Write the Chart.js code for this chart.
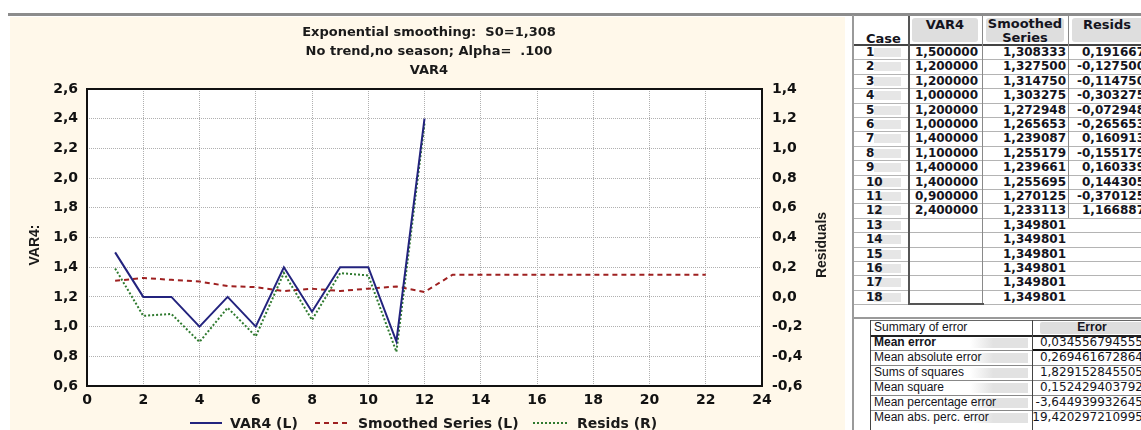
<!DOCTYPE html>
<html lang="en">
<head>
    <meta charset="UTF-8">
    <title>Exponential smoothing - VAR4</title>
    <script src="https://cdn.jsdelivr.net/npm/chart.js"></script>
    <style>
        body {
            margin: 0;
            width: 1141px;
            height: 430px;
            overflow: hidden;
            background: #fff;
            position: relative;
            font-family: "DejaVu Sans", sans-serif;
            color: #141420;
        }
        .topline { position: absolute; left: 8px; top: 13px; width: 1133px; height: 3px; background: #8c8c8c; }
        .panel { position: absolute; left: 10px; top: 17px; width: 835px; height: 413px; background: #fff8ea; }
        .vline { position: absolute; left: 852px; top: 15px; width: 2px; height: 415px; background: #9a9a9a; }
        .sheet { position: absolute; left: 854px; top: 16px; width: 287px; height: 414px; overflow: hidden; }
        .abs { position: absolute; white-space: nowrap; }
        .hdr { font-weight: bold; font-size: 13px; text-align: center; line-height: 14px; }
        .hbox { position: absolute; background: #dedede; border-radius: 3px; }
        .cell { font-weight: bold; font-size: 12px; line-height: 14px; }
        .hl { position: absolute; height: 1px; background: #b4b4b4; }
        .vl { position: absolute; width: 1px; background: #8a8a8a; }
        .sum { font-family: "Liberation Sans", sans-serif; font-size: 12px; line-height: 15px; }
        .val { font-size: 12px; line-height: 15px; text-align: right; }
    </style>
</head>
<body>
    <div class="topline"></div>
    <div class="panel"><canvas id="smoothChart"></canvas></div>
    <div class="vline"></div>
    <div class="sheet" id="sheet"></div>

    <script>
        // values (table on the right)
        const cases = [1, 2, 3, 4, 5, 6, 7, 8, 9, 10, 11, 12, 13, 14, 15, 16, 17, 18, 19, 20, 21, 22];
        const var4 = [1.5, 1.2, 1.2, 1.0, 1.2, 1.0, 1.4, 1.1, 1.4, 1.4, 0.9, 2.4];
        const smoothed = [1.308333, 1.3275, 1.31475, 1.303275, 1.272948, 1.265653, 1.239087, 1.255179,
            1.239661, 1.255695, 1.270125, 1.233113, 1.349801, 1.349801, 1.349801, 1.349801, 1.349801,
            1.349801, 1.349801, 1.349801, 1.349801, 1.349801];
        const resids = [0.191667, -0.1275, -0.11475, -0.303275, -0.072948, -0.265653, 0.160913, -0.155179,
            0.160339, 0.144305, -0.370125, 1.166887];

        const xTicks = [0, 2, 4, 6, 8, 10, 12, 14, 16, 18, 20, 22, 24];
        const leftTicks = [0.6, 0.8, 1.0, 1.2, 1.4, 1.6, 1.8, 2.0, 2.2, 2.4, 2.6];
        const rightTicks = [-0.6, -0.4, -0.2, 0.0, 0.2, 0.4, 0.6, 0.8, 1.0, 1.2, 1.4];

        const titleLines = ['Exponential smoothing:  S0=1,308', 'No trend,no season; Alpha=  .100', 'VAR4'];
        const seriesNames = ['VAR4 (L)', 'Smoothed Series (L)', 'Resids (R)'];

        const summaryLabels = ['Mean error', 'Mean absolute error', 'Sums of squares', 'Mean square',
            'Mean percentage error', 'Mean abs. perc. error'];
        const summaryValues = [0.034556794555, 0.269461672864, 1.829152845505, 0.152429403792,
            -3.644939932645, 19.420297210995];

        const comma = (v, d) => v.toFixed(d).replace('.', ',');
        const tickFont = { family: 'DejaVu Sans', size: 14, weight: 'bold' };

        // plot box inside the 835x413 canvas
        const plotLeft = 77, plotRight = 752, plotTop = 72, plotBottom = 369;

        const decorations = {
            id: 'decorations',
            beforeDraw(chart) {
                const { ctx, chartArea: a } = chart;
                ctx.save();
                ctx.fillStyle = '#ffffff';
                ctx.fillRect(a.left, a.top, a.right - a.left, a.bottom - a.top);
                ctx.restore();
            },
            afterDraw(chart) {
                const { ctx, chartArea: a } = chart;
                ctx.save();
                // frame
                ctx.strokeStyle = '#111';
                ctx.lineWidth = 2;
                ctx.strokeRect(a.left, a.top, a.right - a.left, a.bottom - a.top);

                // titles
                ctx.fillStyle = '#1a1a1a';
                ctx.textAlign = 'center';
                ctx.textBaseline = 'middle';
                ctx.font = 'bold 13px "DejaVu Sans"';
                titleLines.forEach((t, i) => ctx.fillText(t, 419, 16 + i * 19));

                // axis titles
                ctx.font = 'bold 14px "Liberation Sans Narrow", "Liberation Sans"';
                ctx.save();
                ctx.translate(25, 228);
                ctx.rotate(-Math.PI / 2);
                ctx.fillText('VAR4:', 0, 0);
                ctx.restore();
                ctx.save();
                ctx.translate(812, 228);
                ctx.rotate(-Math.PI / 2);
                ctx.fillText('Residuals', 0, 0);
                ctx.restore();

                // legend
                const legendY = 406;
                const items = [[180, 212, 220], [305, 337, 348], [523, 557, 567]];
                ctx.font = 'bold 14px "DejaVu Sans"';
                ctx.textAlign = 'left';
                chart.data.datasets.forEach((ds, i) => {
                    const [x1, x2, tx] = items[i];
                    ctx.strokeStyle = ds.borderColor;
                    ctx.lineWidth = ds.borderWidth;
                    ctx.setLineDash(ds.borderDash || []);
                    ctx.beginPath();
                    ctx.moveTo(x1, legendY);
                    ctx.lineTo(x2, legendY);
                    ctx.stroke();
                    ctx.setLineDash([]);
                    ctx.fillStyle = '#1a1a1a';
                    ctx.fillText(ds.label, tx, legendY + 1);
                });
                ctx.restore();
            }
        };

        const toXY = (arr) => arr.map((v, i) => ({ x: cases[i], y: v }));

        new Chart(document.getElementById('smoothChart'), {
            type: 'line',
            data: {
                datasets: [
                    {
                        label: seriesNames[0],
                        data: toXY(var4),
                        borderColor: '#23237e',
                        borderWidth: 2,
                        yAxisID: 'y',
                        pointRadius: 0,
                        tension: 0
                    },
                    {
                        label: seriesNames[1],
                        data: toXY(smoothed),
                        borderColor: '#9e2020',
                        borderWidth: 2,
                        borderDash: [5, 4],
                        yAxisID: 'y',
                        pointRadius: 0,
                        tension: 0
                    },
                    {
                        label: seriesNames[2],
                        data: toXY(resids),
                        borderColor: '#2f7a2f',
                        borderWidth: 2,
                        borderDash: [2, 2],
                        yAxisID: 'y1',
                        pointRadius: 0,
                        tension: 0
                    }
                ]
            },
            options: {
                responsive: true,
                maintainAspectRatio: false,
                animation: false,
                layout: { padding: { left: 0, right: 0, top: plotTop, bottom: 0 } },
                plugins: {
                    legend: { display: false },
                    tooltip: { enabled: false }
                },
                scales: {
                    x: {
                        type: 'linear',
                        min: 0,
                        max: 24,
                        afterBuildTicks: s => { s.ticks = xTicks.map(v => ({ value: v })); },
                        afterFit: s => { s.height = 413 - plotBottom; },
                        ticks: { font: tickFont, color: '#111', padding: 6, maxRotation: 0, autoSkip: false },
                        grid: { color: '#b0b0b0', lineWidth: 1, drawTicks: false },
                        border: { display: false, dash: [1, 1] }
                    },
                    y: {
                        position: 'left',
                        min: 0.6,
                        max: 2.6,
                        afterBuildTicks: s => { s.ticks = leftTicks.map(v => ({ value: v })); },
                        afterFit: s => { s.width = plotLeft; },
                        ticks: { font: tickFont, color: '#111', padding: 9, callback: v => comma(v, 1) },
                        grid: { color: '#b0b0b0', lineWidth: 1, drawTicks: false },
                        border: { display: false, dash: [1, 1] }
                    },
                    y1: {
                        position: 'right',
                        min: -0.6,
                        max: 1.4,
                        afterBuildTicks: s => { s.ticks = rightTicks.map(v => ({ value: v })); },
                        afterFit: s => { s.width = 835 - plotRight; },
                        ticks: { font: tickFont, color: '#111', padding: 10, callback: v => comma(v, 1) },
                        grid: { drawOnChartArea: false, drawTicks: false },
                        border: { display: false }
                    }
                }
            },
            plugins: [decorations]
        });

        // spreadsheet on the right (coordinates relative to .sheet at 854,16)
        const sheet = document.getElementById('sheet');
        function add(cls, style, text) {
            const d = document.createElement('div');
            d.className = cls;
            Object.assign(d.style, style);
            if (text !== undefined) d.textContent = text;
            sheet.appendChild(d);
            return d;
        }

        const rowH = 14.4, headH = 29, shownRows = 18;
        const colCase = 2, colVar = 54, colSm = 128, colRes = 214;

        // header boxes and text
        add('hbox', { left: (colVar + 4) + 'px', top: '2px', width: '66px', height: '24px' });
        add('hbox', { left: (colSm + 4) + 'px', top: '2px', width: '78px', height: '24px' });
        add('hbox', { left: (colRes + 4) + 'px', top: '2px', width: '80px', height: '24px' });
        add('abs hdr', { left: (colCase + 10) + 'px', top: '16px', textAlign: 'left' }, 'Case');
        add('abs hdr', { left: colVar + 'px', top: '2px', width: '74px' }, 'VAR4');
        add('abs hdr', { left: colSm + 'px', top: '1px', width: '86px' }, 'Smoothed');
        add('abs hdr', { left: colSm + 'px', top: '15px', width: '86px' }, 'Series');
        add('abs hdr', { left: colRes + 'px', top: '2px', width: '78px' }, 'Resids');

        // header rule
        add('hl', { left: '0px', top: (headH - 1) + 'px', width: '287px', height: '2px', background: '#444' });

        for (let i = 0; i < shownRows; i++) {
            const top = headH + i * rowH;
            add('hl', { left: '0px', top: (top + rowH) + 'px', width: '287px' });
            add('abs', { left: '20px', top: (top + 3) + 'px', width: '27px', height: '9px', background: '#e6e6e6' });
            add('abs cell', { left: (colCase + 10) + 'px', top: top + 'px' }, String(cases[i]));
            if (i < var4.length) {
                add('abs cell', { left: colVar + 'px', top: top + 'px', width: '70px', textAlign: 'right' }, comma(var4[i], 6));
                add('abs cell', { left: colRes + 'px', top: top + 'px', width: '77px', textAlign: 'right' }, comma(resids[i], 6));
            }
            add('abs cell', { left: colSm + 'px', top: top + 'px', width: '84px', textAlign: 'right' }, comma(smoothed[i], 6));
        }
        const gridBottom = headH + shownRows * rowH;
        add('vl', { left: colVar + 'px', top: '0px', height: gridBottom + 'px', width: '2px', background: '#555' });
        add('vl', { left: colSm + 'px', top: '0px', height: gridBottom + 'px' });
        add('vl', { left: colRes + 'px', top: '0px', height: (headH + 12 * rowH) + 'px' });
        add('hl', { left: colVar + 'px', top: gridBottom + 'px', width: (colSm - colVar + 2) + 'px', background: '#555' });
        // mask below row 18, then the separator
        add('abs', { left: '0px', top: (gridBottom + 1) + 'px', width: '287px', height: '14px', background: '#fff' });
        add('hl', { left: colVar + 'px', top: (gridBottom - 1) + 'px', width: (colSm - colVar + 2) + 'px', height: '2px', background: '#555' });
        add('hl', { left: '0px', top: '301px', width: '287px', height: '2px', background: '#9a9a9a' });

        // summary of error table
        const sTop = 304, sRow = 15, sLeft = 16, sMid = 178;
        add('hl', { left: sLeft + 'px', top: sTop + 'px', width: (287 - sLeft) + 'px', background: '#666' });
        add('hbox', { left: (sMid + 8) + 'px', top: (sTop + 2) + 'px', width: '110px', height: '12px', borderRadius: '2px' });
        add('abs sum', { left: (sLeft + 4) + 'px', top: sTop + 'px' }, 'Summary of error');
        add('abs sum', { left: sMid + 'px', top: sTop + 'px', width: '120px', textAlign: 'center', fontWeight: 'bold' }, 'Error');
        summaryLabels.forEach((lab, i) => {
            const top = sTop + (i + 1) * sRow;
            add('hl', { left: sLeft + 'px', top: top + 'px', width: (287 - sLeft) + 'px', background: i === 0 ? '#222' : '#888', height: i === 0 ? '2px' : '1px' });
            add('abs', { left: (sLeft + 100) + 'px', top: (top + 3) + 'px', width: (sMid - sLeft - 104) + 'px', height: '10px', background: 'linear-gradient(to right, rgba(228,228,228,0), #e2e2e2 40%)' });
            add('abs sum', { left: (sLeft + 4) + 'px', top: top + 'px', fontWeight: i === 0 ? 'bold' : 'normal' }, lab);
            add('abs val', { left: sMid + 'px', top: top + 'px', width: '111px' }, comma(summaryValues[i], 12));
        });
        add('hl', { left: sMid + 'px', top: (sTop + 2 * sRow - 1) + 'px', width: (287 - sMid) + 'px', height: '2px', background: '#111' });
        add('vl', { left: sLeft + 'px', top: sTop + 'px', height: (7 * sRow + 6) + 'px', background: '#444' });
        add('vl', { left: sMid + 'px', top: sTop + 'px', height: (7 * sRow + 6) + 'px', background: '#444' });
    </script>
</body>
</html>
